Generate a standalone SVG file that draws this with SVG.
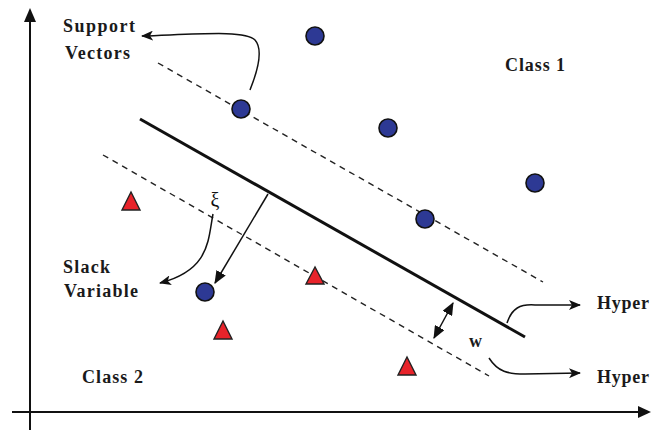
<svg xmlns="http://www.w3.org/2000/svg" width="651" height="430" viewBox="0 0 651 430">
  <style>
    .axis { stroke: #111; stroke-width: 2; fill: none; }
    .hyperplane { stroke: #111; stroke-width: 3; fill: none; }
    .margin { stroke: #222; stroke-width: 1.4; stroke-dasharray: 6 5; fill: none; }
    .conn { stroke: #111; stroke-width: 1.5; fill: none; }
    .c1 { fill: #2d3994; stroke: #111; stroke-width: 1.6; }
    .c2 { fill: #e8232a; stroke: #222; stroke-width: 1.4; }
    .lbl { font-family: 'Liberation Serif', serif; font-weight: bold; font-size: 18px; fill: #1a1a1a; }
  </style>
  <defs>
    <marker id="stealth" viewBox="0 0 12 10" refX="11" refY="5" markerWidth="12" markerHeight="10" markerUnits="userSpaceOnUse" orient="auto-start-reverse">
      <path d="M0,0 L12,5 L0,10 L3,5 Z" fill="#111"/>
    </marker>
    <marker id="tri" viewBox="0 0 12 10" refX="11" refY="5" markerWidth="13" markerHeight="11" markerUnits="userSpaceOnUse" orient="auto-start-reverse">
      <path d="M0,0 L12,5 L0,10 Z" fill="#111"/>
    </marker>
  </defs>
  <rect width="651" height="430" fill="#fff"/>

  <!-- coordinate axes -->
  <g id="axes">
    <line class="axis" x1="30" y1="430" x2="30" y2="18"/>
    <path d="M30,8 L24,22 L36,22 Z" fill="#111"/>
    <line class="axis" x1="12" y1="412" x2="641" y2="412"/>
    <path d="M651,412 L638,406 L638,418 Z" fill="#111"/>
  </g>

  <!-- separating hyperplane and margins -->
  <g id="hyperplane">
    <line class="hyperplane" x1="140" y1="119" x2="525" y2="337"/>
  </g>
  <g id="margin-upper">
    <line class="margin" x1="158" y1="63" x2="543" y2="282"/>
  </g>
  <g id="margin-lower">
    <line class="margin" x1="103" y1="155" x2="489" y2="376"/>
  </g>

  <!-- class 1 samples -->
  <g id="class1-points">
    <circle class="c1" cx="315" cy="36" r="9"/>
    <circle class="c1" cx="241" cy="109" r="9"/>
    <circle class="c1" cx="388" cy="128" r="9"/>
    <circle class="c1" cx="535" cy="183" r="9"/>
    <circle class="c1" cx="425" cy="219" r="9"/>
    <circle class="c1" cx="205" cy="292" r="9"/>
  </g>

  <!-- class 2 samples -->
  <g id="class2-points">
    <path class="c2" d="M131,192 L122,210 L140,210 Z"/>
    <path class="c2" d="M223,321 L214,339 L232,339 Z"/>
    <path class="c2" d="M315,267 L306,284 L324,284 Z"/>
    <path class="c2" d="M407,357 L398,375 L416,375 Z"/>
  </g>

  <!-- connectors -->
  <g id="connectors">
    <path class="conn" d="M250,90 C256,75 264,50 255,40 C246,30 200,34 142,36" marker-end="url(#stealth)"/>
    <line class="conn" x1="268" y1="194" x2="215" y2="283" marker-end="url(#tri)"/>
    <path class="conn" d="M213,214 C208,240 210,270 160,283" marker-end="url(#stealth)"/>
    <line class="conn" x1="453" y1="303" x2="434" y2="338" marker-start="url(#tri)" marker-end="url(#tri)"/>
    <path class="conn" d="M507,323 C512,308 520,304 535,305 L580,305" marker-end="url(#stealth)"/>
    <path class="conn" d="M489,358 C498,372 508,374 525,374 L580,373" marker-end="url(#stealth)"/>
  </g>

  <!-- labels -->
  <g id="labels">
    <text class="lbl" x="63" y="32" textLength="72" lengthAdjust="spacing">Support</text>
    <text class="lbl" x="65" y="59" textLength="65" lengthAdjust="spacing">Vectors</text>
    <text class="lbl" x="505" y="71" textLength="60" lengthAdjust="spacing">Class 1</text>
    <text class="lbl" x="63" y="273" textLength="47" lengthAdjust="spacing">Slack</text>
    <text class="lbl" x="64" y="297" textLength="74" lengthAdjust="spacing">Variable</text>
    <text class="lbl" x="82" y="383" textLength="61" lengthAdjust="spacing">Class 2</text>
    <text class="lbl" x="469" y="347" font-size="16">w</text>
    <text class="lbl" x="597" y="309" textLength="52" lengthAdjust="spacing">Hyper</text>
    <text class="lbl" x="597" y="383" textLength="52" lengthAdjust="spacing">Hyper</text>
    <text x="215" y="207" font-family="'Liberation Serif', serif" font-size="20" fill="#111" text-anchor="middle">ξ</text>
  </g>
</svg>
